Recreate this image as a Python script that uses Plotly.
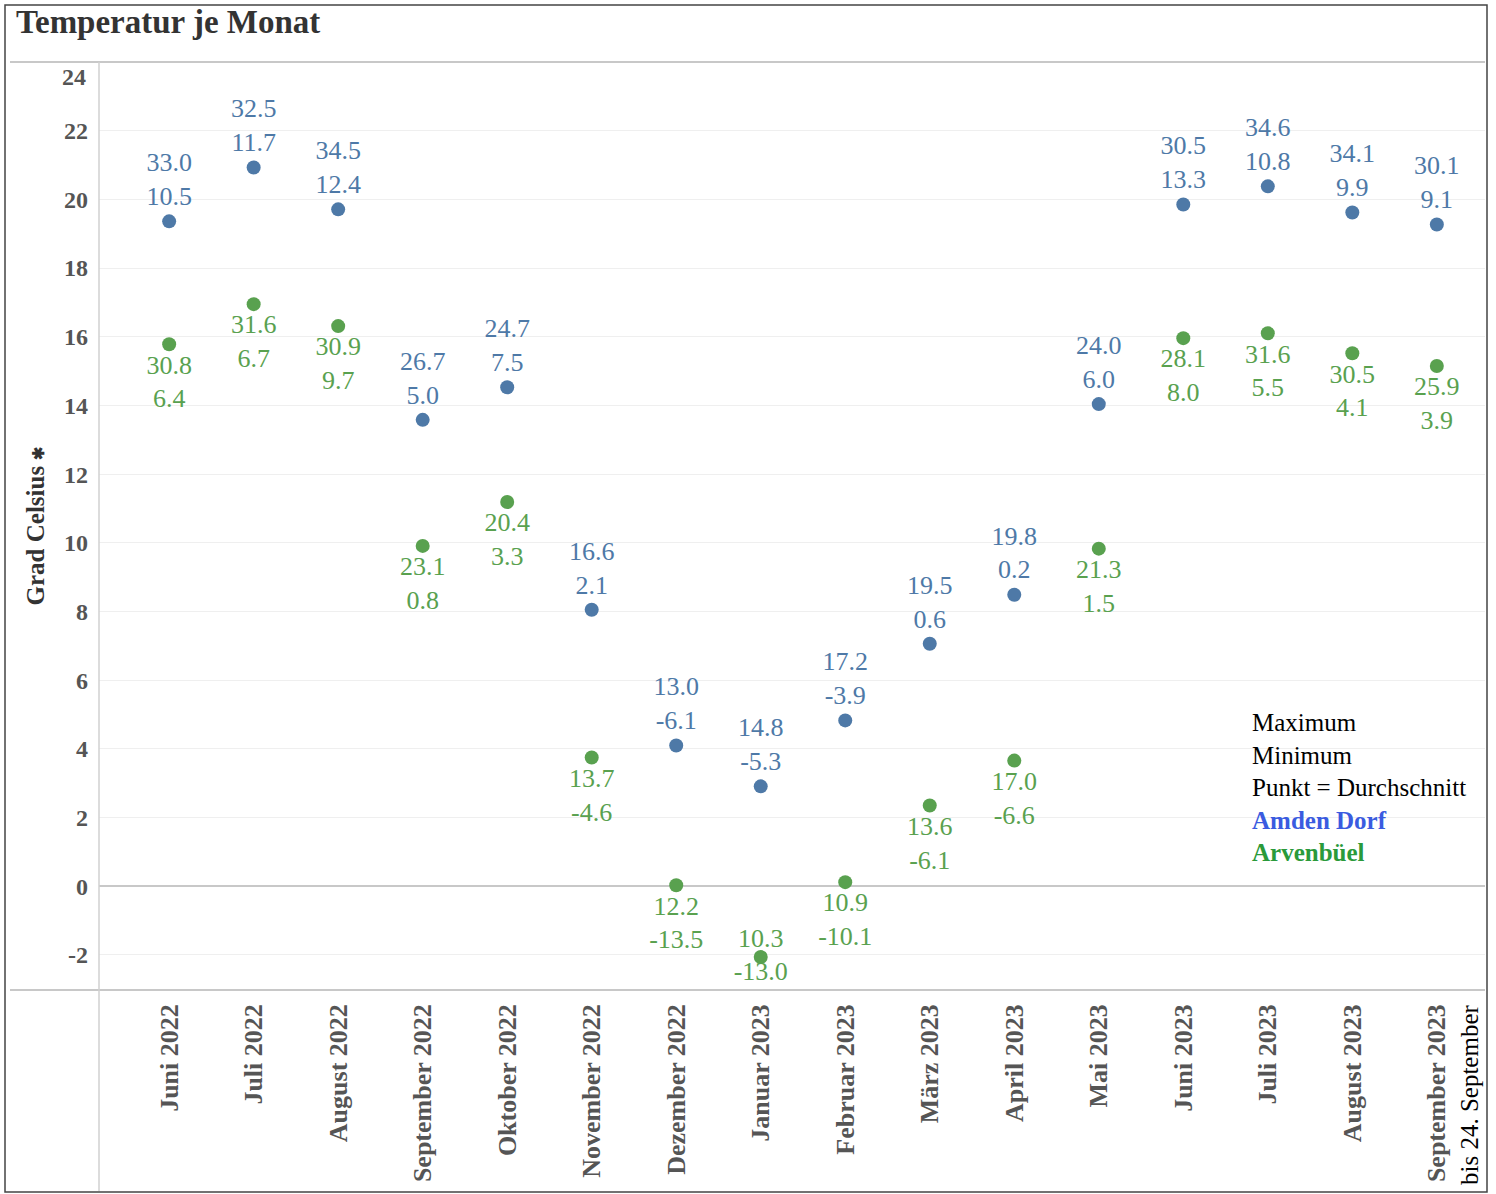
import plotly.graph_objects as go

months = ["Juni 2022", "Juli 2022", "August 2022", "September 2022", "Oktober 2022",
          "November 2022", "Dezember 2022", "Januar 2023", "Februar 2023", "März 2023",
          "April 2023", "Mai 2023", "Juni 2023", "Juli 2023", "August 2023", "September 2023"]

amden_avg = [19.36, 20.93, 19.71, 13.58, 14.53, 8.05, 4.10, 2.91, 4.83, 7.06, 8.49, 14.04,
             19.85, 20.38, 19.62, 19.27]
amden_max = ["33.0", "32.5", "34.5", "26.7", "24.7", "16.6", "13.0", "14.8", "17.2", "19.5",
             "19.8", "24.0", "30.5", "34.6", "34.1", "30.1"]
amden_min = ["10.5", "11.7", "12.4", "5.0", "7.5", "2.1", "-6.1", "-5.3", "-3.9", "0.6",
             "0.2", "6.0", "13.3", "10.8", "9.9", "9.1"]

arven_avg = [15.78, 16.95, 16.31, 9.91, 11.19, 3.75, 0.03, -2.06, 0.12, 2.35, 3.66, 9.83,
             15.96, 16.10, 15.52, 15.15]
arven_max = ["30.8", "31.6", "30.9", "23.1", "20.4", "13.7", "12.2", "10.3", "10.9", "13.6",
             "17.0", "21.3", "28.1", "31.6", "30.5", "25.9"]
arven_min = ["6.4", "6.7", "9.7", "0.8", "3.3", "-4.6", "-13.5", "-13.0", "-10.1", "-6.1",
             "-6.6", "1.5", "8.0", "5.5", "4.1", "3.9"]

y_ticks = [-2, 0, 2, 4, 6, 8, 10, 12, 14, 16, 18, 20, 22]
y_tick_text = ["-2", "0", "2", "4", "6", "8", "10", "12", "14", "16", "18", "20", "22"]

BLUE = "#4e79a7"
GREEN = "#59a14f"
SERIF = "Liberation Serif, Times New Roman, serif"

W, H = 1496, 1194
L, R, T, B = 99, 1485, 62, 990


def px(x):
    return (x - L) / (R - L)


def py(y):
    return (B - y) / (B - T)


fig = go.Figure()

fig.add_trace(go.Scatter(
    x=months, y=amden_avg, mode="markers+text", name="Amden Dorf",
    marker=dict(color=BLUE, size=14),
    text=[f"{a}<br>{b}" for a, b in zip(amden_max, amden_min)],
    textposition="top center",
    textfont=dict(family=SERIF, size=26, color=BLUE),
    cliponaxis=False, showlegend=False,
))

arven_pos = ["middle center" if v < -1 else "bottom center" for v in arven_avg]
fig.add_trace(go.Scatter(
    x=months, y=arven_avg, mode="markers+text", name="Arvenbüel",
    marker=dict(color=GREEN, size=14),
    text=[f"{a}<br>{b}" for a, b in zip(arven_max, arven_min)],
    textposition=arven_pos,
    textfont=dict(family=SERIF, size=26, color=GREEN),
    cliponaxis=False, showlegend=False,
))

fig.update_xaxes(
    type="category", range=[-0.83, 15.57], showgrid=False, zeroline=False,
    showline=False, ticks="", tickangle=-90, ticklabelstandoff=8,
    tickfont=dict(family=SERIF, size=26, color="#555555", weight="bold"),
)
fig.update_yaxes(
    range=[-3.02, 24], tickvals=y_ticks, ticktext=y_tick_text,
    showgrid=True, gridcolor="#efefef", gridwidth=1,
    zeroline=True, zerolinecolor="#c8c8c8", zerolinewidth=1.5, showline=False, ticks="",
    ticklabelstandoff=10,
    tickfont=dict(family=SERIF, size=24, color="#555555", weight="bold"),
    title=dict(text="Grad Celsius <span style='font-size:16px'>✱</span>",
               font=dict(family=SERIF, size=25, color="#333333", weight="bold"), standoff=12),
)

fig.add_annotation(x=px(88), y=24, xref="paper", yref="y", text="24", showarrow=False,
                   xanchor="right", yanchor="top",
                   font=dict(family=SERIF, size=24, color="#555555", weight="bold"))

shapes = [
    dict(type="rect", xref="paper", yref="paper", x0=px(5), x1=px(1487), y0=py(1192), y1=py(5),
         line=dict(color="#444444", width=1.5)),
    dict(type="line", xref="paper", yref="paper", x0=px(10), x1=px(1485), y0=1, y1=1,
         line=dict(color="#c8c8c8", width=2)),
    dict(type="line", xref="paper", yref="paper", x0=px(10), x1=px(1485), y0=0, y1=0,
         line=dict(color="#c8c8c8", width=2)),
    dict(type="line", xref="paper", yref="paper", x0=0, x1=0, y0=1, y1=py(1191),
         line=dict(color="#d0d0d0", width=1.5)),
]
fig.update_layout(shapes=shapes)

fig.add_annotation(x=px(14), y=py(22), xref="paper", yref="paper",
                   text="<b>Temperatur je Monat</b>", showarrow=False,
                   xanchor="left", yanchor="middle",
                   font=dict(family=SERIF, size=33, color="#333333"))

legend_text = ("Maximum<br>Minimum<br>Punkt = Durchschnitt<br>"
               "<b><span style='color:#3a5be0'>Amden Dorf</span></b><br>"
               "<b><span style='color:#2a9a3a'>Arvenbüel</span></b>")
fig.add_annotation(x=px(1250), y=py(707), xref="paper", yref="paper",
                   text=legend_text, showarrow=False, align="left",
                   xanchor="left", yanchor="top",
                   font=dict(family=SERIF, size=25, color="#000000"))

fig.add_annotation(x=px(1469), y=py(1095), xref="paper", yref="paper",
                   text="bis 24. September", showarrow=False, textangle=-90,
                   xanchor="center", yanchor="middle",
                   font=dict(family=SERIF, size=25, color="#000000"))

fig.update_layout(
    width=W, height=H,
    margin=dict(l=L, r=W - R, t=T, b=H - B),
    plot_bgcolor="white", paper_bgcolor="white",
)

fig.write_html("out.html", config={"displayModeBar": False},
               post_script="document.body.style.margin='0';document.body.style.overflow='hidden';")
